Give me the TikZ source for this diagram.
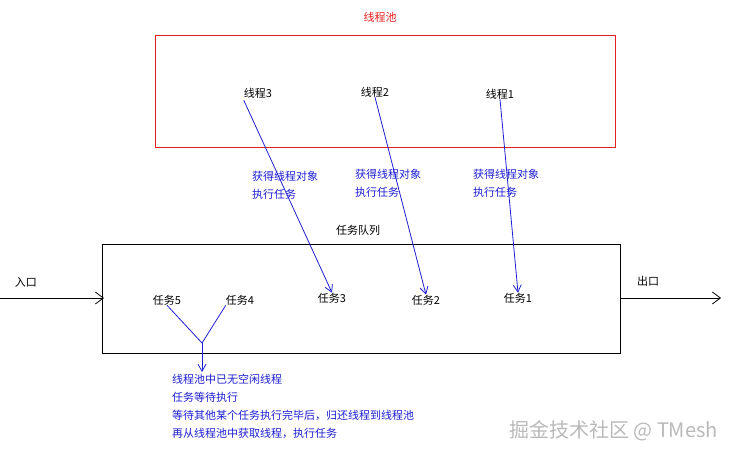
\documentclass[tikz,border=0pt]{standalone}
\usepackage{fontspec}
\setmainfont{Noto Sans CJK SC}
\usetikzlibrary{positioning,arrows.meta}
\definecolor{poolred}{RGB}{230,30,30}
\definecolor{taskblue}{RGB}{30,30,210}
\tikzset{
	lbl/.style={font=\fontsize{11}{14}\selectfont, inner sep=0pt},
	note/.style={lbl, font=\fontsize{11}{18}\selectfont, text=taskblue, align=left, anchor=north west},
	flow/.style={taskblue, line width=0.8pt, -{Straight Barb[length=7pt,width=8pt]}},
	side/.style={line width=0.8pt, -{Straight Barb[length=8pt,width=12pt]}}
}
\begin{document}
\begin{tikzpicture}[x=1pt,y=-1pt]
	% canvas 734 x 460
	\useasboundingbox (0,0) rectangle (734,460);
	% thread pool
	\node[lbl, text=poolred] (pooltitle) at (380,17) {线程池};
	\draw[poolred, line width=0.8pt] (155,35) rectangle (615,147);
	\node[lbl] (t3) at (258,93) {线程3};
	\node[lbl] (t2) at (375,92) {线程2};
	\node[lbl] (t1) at (500,94) {线程1};
	
	% task queue
	\node[lbl] (queuetitle) at (358,230) {任务队列};
	\draw[line width=0.8pt] (102,244) rectangle (620,353);
	\node[lbl] (in) at (26,282) {入口};
	\node[lbl] (out) at (648,281) {出口};
	\coordinate (instart) at (0,298);
	\coordinate (inend) at (104,298);
	\coordinate (outstart) at (620,298);
	\coordinate (outend) at (721,298);
	\draw[side] (instart) -- (inend);
	\draw[side] (outstart) -- (outend);
	
	\node[lbl] (k5) at (167,300) {任务5};
	\node[lbl] (k4) at (240,300) {任务4};
	\node[lbl] (k3) at (332,298) {任务3};
	\node[lbl] (k2) at (426,300) {任务2};
	\node[lbl] (k1) at (518,298) {任务1};
	
	% threads take tasks
	\draw[flow] (t3.south west) ++(0,2) -- (k3.north);
	\draw[flow] (t2.south) -- (k2.north);
	\draw[flow] (t1.south) -- (k1.north);
	\node[note] (n3) at (252,171) {获得线程对象\\执行任务};
	\node[note] (n2) at (355,169) {获得线程对象\\执行任务};
	\node[note] (n1) at (473,169) {获得线程对象\\执行任务};
	
	% waiting tasks
	\coordinate (join) at (202,343);
	\coordinate (joinend) at (202,372);
	\draw[taskblue, line width=0.8pt] (k5.south) -- (join);
	\draw[taskblue, line width=0.8pt] (k4.south west) -- (join);
	\draw[flow] (join) -- (joinend);
	\node[note] (wait) at (172,374) {线程池中已无空闲线程\\任务等待执行\\等待其他某个任务执行完毕后，归还线程到线程池\\再从线程池中获取线程，执行任务};
	
	\node[lbl, font=\fontsize{20}{22}\selectfont, text=gray!55, anchor=east] (mark) at (718,431) {掘金技术社区 @ TMesh};
\end{tikzpicture}
\end{document}
